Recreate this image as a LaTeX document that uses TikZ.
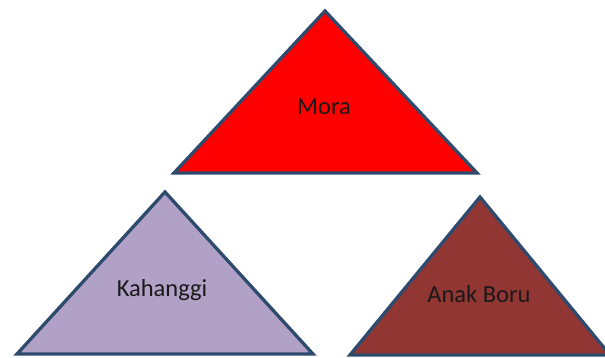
\documentclass[tikz,border=0pt]{standalone}
\usepackage{fontspec}
\setmainfont{Carlito}
\definecolor{edgeblue}{HTML}{2E4A6C}
\definecolor{lav}{HTML}{B1A1C7}
\definecolor{darkred}{HTML}{923634}
\begin{document}
\begin{tikzpicture}[x=1pt,y=-1pt,
  tri/.style={draw=edgeblue,line width=3.3pt,line join=miter},
  lbl/.style={font=\fontsize{24.5}{29}\selectfont,text=black!90,inner sep=0pt}]
\useasboundingbox (0,0) rectangle (605,358);
\filldraw[tri,fill=red] (325,11) -- (477,173) -- (174,173) -- cycle;
\filldraw[tri,fill=lav] (165,192) -- (313,354) -- (17,354) -- cycle;
\filldraw[tri,fill=darkred] (480,197) -- (610,355) -- (350,355) -- cycle;
\node[lbl] (mora) at (324,107) {Mora};
\node[lbl] (kah) at (162,290) {Kahanggi};
\node[lbl] (anak) at (479,294) {Anak Boru};
\end{tikzpicture}
\end{document}
